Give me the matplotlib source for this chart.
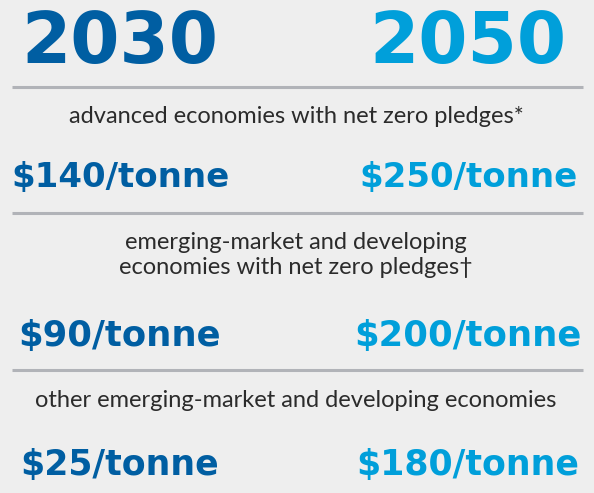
import matplotlib
matplotlib.use("Agg")
import matplotlib.pyplot as plt

# data
years = ["2030", "2050"]
groups = [
    "advanced economies with net zero pledges*",
    "emerging-market and developing\neconomies with net zero pledges\u2020",
    "other emerging-market and developing economies",
]
price_2030 = [140, 90, 25]
price_2050 = [250, 200, 180]

BG = "#eeeeee"
DARK = "#005ea2"
LIGHT = "#009fda"
RULE = "#b1b3b8"
GREY = "#2b2b2b"

W, H = 594, 493
fig = plt.figure(figsize=(W / 100, H / 100), dpi=100, facecolor=BG)
ax = fig.add_axes([0, 0, 1, 1])
ax.set_xlim(0, W)
ax.set_ylim(H, 0)
ax.set_axis_off()
ax.set_facecolor(BG)

col_x = [120, 468]
cols = [DARK, LIGHT]
big_font = ["DejaVu Sans"]
small_font = ["Lato", "DejaVu Sans"]

# header years
for x, yr, c in zip(col_x, years, cols):
    ax.text(x, 63, yr, ha="center", va="baseline", fontsize=51,
            fontweight="bold", color=c, family=big_font)

rule_y = [87, 213, 370]
label_base = [123, 249, 407]   # baseline of first label line
line_gap = 25
price_base = [187, 346, 475]
price_size = [24.5, 25.5, 25]

for i, g in enumerate(groups):
    ax.plot([12, 583], [rule_y[i], rule_y[i]], color=RULE, lw=2.2,
            solid_capstyle="butt")
    for j, line in enumerate(g.split("\n")):
        ax.text(W / 2 - 1, label_base[i] + j * line_gap, line, ha="center",
                va="baseline", fontsize=17, color=GREY, family=small_font)
    for x, v, c in zip(col_x, [price_2030[i], price_2050[i]], cols):
        ax.text(x, price_base[i], f"${v}/tonne", ha="center", va="baseline",
                fontsize=price_size[i], fontweight="bold", color=c,
                family=big_font)

fig.savefig("out.png", dpi=100, facecolor=BG)
